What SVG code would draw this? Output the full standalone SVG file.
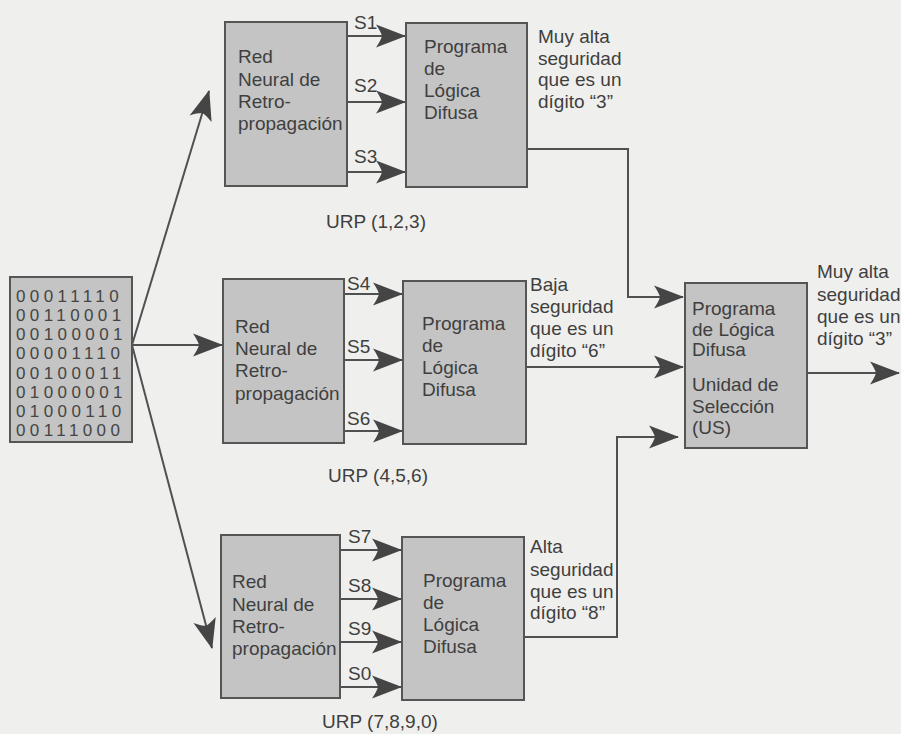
<svg xmlns="http://www.w3.org/2000/svg" width="901" height="734" viewBox="0 0 901 734">
<style>
.bg{fill:#efefed}
.box{fill:#c4c4c4;stroke:#555;stroke-width:2}
.t{font-family:"Liberation Sans",Arial,sans-serif;font-size:19px;fill:#3f3f3f}
.m{font-family:"Liberation Sans",Arial,sans-serif;font-size:17px;fill:#454545;letter-spacing:4.4px}
.ln{fill:none;stroke:#505050;stroke-width:2}
.arr{marker-end:url(#ah)}
</style>
<defs>
<marker id="ah" markerUnits="userSpaceOnUse" viewBox="-31 -12 32 24" refX="0" refY="0" markerWidth="32" markerHeight="24" orient="auto">
<path d="M1,0 L-29,-11.5 Q-24,-4 -23,0 Q-24,4 -29,11.5 Z" fill="#454545"/>
</marker>
</defs>
<rect class="bg" x="0" y="0" width="901" height="734"/>

<g id="connectors">
<line class="ln arr" x1="132" y1="345" x2="209" y2="91"/>
<line class="ln arr" x1="132" y1="345" x2="222" y2="345"/>
<line class="ln arr" x1="132" y1="345" x2="212" y2="648"/>
<line class="ln arr" x1="347" y1="36" x2="405" y2="36"/>
<line class="ln arr" x1="347" y1="102" x2="405" y2="102"/>
<line class="ln arr" x1="347" y1="172" x2="405" y2="172"/>
<line class="ln arr" x1="344" y1="294" x2="402" y2="294"/>
<line class="ln arr" x1="344" y1="360" x2="402" y2="360"/>
<line class="ln arr" x1="344" y1="431" x2="402" y2="431"/>
<line class="ln arr" x1="340" y1="550" x2="401" y2="550"/>
<line class="ln arr" x1="340" y1="599" x2="401" y2="599"/>
<line class="ln arr" x1="340" y1="642" x2="401" y2="642"/>
<line class="ln arr" x1="340" y1="687" x2="401" y2="687"/>
<polyline class="ln arr" points="527,149 628,149 628,297 683,297"/>
<line class="ln arr" x1="526" y1="367" x2="683" y2="367"/>
<polyline class="ln arr" points="524,637 617,637 617,437 678,437"/>
<line class="ln arr" x1="807" y1="373" x2="899" y2="373"/>
</g>

<g id="matrix">
<rect class="box" x="10" y="277" width="122" height="165"/>
<text class="m" x="16" y="302">00011110</text>
<text class="m" x="16" y="321.1">00110001</text>
<text class="m" x="16" y="340.3">00100001</text>
<text class="m" x="16" y="359.4">00001110</text>
<text class="m" x="16" y="378.6">00100011</text>
<text class="m" x="16" y="397.7">01000001</text>
<text class="m" x="16" y="416.9">01000110</text>
<text class="m" x="16" y="436">00111000</text>
</g>

<g id="nn1">
<rect class="box" x="225" y="22" width="122" height="164"/>
<text class="t"><tspan x="238" y="63">Red</tspan><tspan x="238" y="86">Neural de</tspan><tspan x="238" y="108">Retro-</tspan><tspan x="238" y="130">propagación</tspan></text>
</g>
<g id="fl1">
<rect class="box" x="406" y="23" width="121" height="164"/>
<text class="t"><tspan x="424" y="53">Programa</tspan><tspan x="424" y="75">de</tspan><tspan x="424" y="97">Lógica</tspan><tspan x="424" y="119">Difusa</tspan></text>
</g>
<g id="lbl1">
<text class="t"><tspan x="354" y="29">S1</tspan><tspan x="354" y="92">S2</tspan><tspan x="354" y="163">S3</tspan></text>
<text class="t"><tspan x="538" y="43">Muy alta</tspan><tspan x="538" y="64.5">seguridad</tspan><tspan x="538" y="86">que es un</tspan><tspan x="538" y="107.5">dígito “3”</tspan></text>
<text class="t" x="326" y="228">URP (1,2,3)</text>
</g>

<g id="nn2">
<rect class="box" x="223" y="279" width="121" height="164"/>
<text class="t"><tspan x="235" y="333">Red</tspan><tspan x="235" y="355">Neural de</tspan><tspan x="235" y="377">Retro-</tspan><tspan x="235" y="400">propagación</tspan></text>
</g>
<g id="fl2">
<rect class="box" x="403" y="281" width="123" height="163"/>
<text class="t"><tspan x="422" y="330">Programa</tspan><tspan x="422" y="352">de</tspan><tspan x="422" y="374">Lógica</tspan><tspan x="422" y="396">Difusa</tspan></text>
</g>
<g id="lbl2">
<text class="t"><tspan x="347" y="290">S4</tspan><tspan x="347" y="353">S5</tspan><tspan x="347" y="425">S6</tspan></text>
<text class="t"><tspan x="530" y="291">Baja</tspan><tspan x="530" y="313">seguridad</tspan><tspan x="530" y="335">que es un</tspan><tspan x="530" y="357">dígito “6”</tspan></text>
<text class="t" x="328" y="482">URP (4,5,6)</text>
</g>

<g id="nn3">
<rect class="box" x="221" y="535" width="119" height="163"/>
<text class="t"><tspan x="232" y="588">Red</tspan><tspan x="232" y="611">Neural de</tspan><tspan x="232" y="633">Retro-</tspan><tspan x="232" y="655">propagación</tspan></text>
</g>
<g id="fl3">
<rect class="box" x="402" y="537" width="122" height="163"/>
<text class="t"><tspan x="423" y="587">Programa</tspan><tspan x="423" y="609">de</tspan><tspan x="423" y="631">Lógica</tspan><tspan x="423" y="653">Difusa</tspan></text>
</g>
<g id="lbl3">
<text class="t"><tspan x="348" y="543">S7</tspan><tspan x="348" y="592">S8</tspan><tspan x="348" y="635">S9</tspan><tspan x="348" y="680">S0</tspan></text>
<text class="t"><tspan x="530" y="553">Alta</tspan><tspan x="530" y="576">seguridad</tspan><tspan x="530" y="598">que es un</tspan><tspan x="530" y="619">dígito “8”</tspan></text>
<text class="t" x="322" y="728">URP (7,8,9,0)</text>
</g>

<g id="us">
<rect class="box" x="685" y="283" width="122" height="165"/>
<text class="t"><tspan x="692" y="315">Programa</tspan><tspan x="692" y="336">de Lógica</tspan><tspan x="692" y="356">Difusa</tspan><tspan x="692" y="391">Unidad de</tspan><tspan x="692" y="413">Selección</tspan><tspan x="692" y="434">(US)</tspan></text>
</g>
<g id="out">
<text class="t"><tspan x="817" y="278">Muy alta</tspan><tspan x="817" y="301">seguridad</tspan><tspan x="817" y="323">que es un</tspan><tspan x="817" y="345">dígito “3”</tspan></text>
</g>
</svg>
